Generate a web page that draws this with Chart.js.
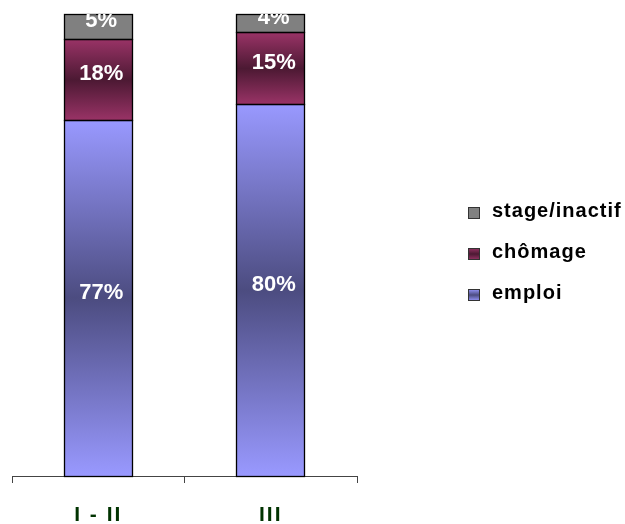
<!DOCTYPE html>
<html>
<head>
<meta charset="utf-8">
<script src="https://cdn.jsdelivr.net/npm/chart.js@4.4.1/dist/chart.umd.min.js"></script>
<style>
html,body{margin:0;padding:0;background:#fff;}
#wrap{width:625px;height:524px;position:relative;}
canvas{display:block;}
</style>
</head>
<body>
<div id="wrap"><canvas id="c" width="625" height="524"></canvas></div>
<script>
// ---- data ----
const categories = ['I - II', 'III'];
const seriesNames = ['emploi', 'chômage', 'stage/inactif'];
const emploi = [77.0, 80.5];
const chomage = [17.5, 15.4];
const stage = [5.5, 4.1];
const emploiLabels = ['77%', '80%'];
const chomageLabels = ['18%', '15%'];
const stageLabels = ['5%', '4%'];

// ---- styles ----
const palette = [
  {light: '#9999ff', dark: '#4c4c80'},
  {light: '#993366', dark: '#4c1933'},
  {light: '#808080', dark: '#808080'}
];
const valueLabels = [emploiLabels, chomageLabels, stageLabels];
const seriesValues = [emploi, chomage, stage];

function vGrad(ctx, top, bottom, light, dark) {
  const g = ctx.createLinearGradient(0, top, 0, bottom);
  g.addColorStop(0, light);
  g.addColorStop(0.5, dark);
  g.addColorStop(1, light);
  return g;
}

function segFill(idx) {
  const p = palette[idx];
  return (c) => {
    if (p.light === p.dark) return p.light;
    const chart = c.chart;
    const y = chart.scales && chart.scales.y;
    if (c.type !== 'data' || !y || !chart.chartArea) return p.light;
    let start = 0;
    for (let d = 0; d < c.datasetIndex; d++) start += chart.data.datasets[d].data[c.dataIndex];
    const end = start + c.raw;
    return vGrad(chart.ctx, y.getPixelForValue(end), y.getPixelForValue(start), p.light, p.dark);
  };
}

const datasets = seriesNames.map((name, i) => ({
  label: name,
  data: seriesValues[i],
  backgroundColor: segFill(i),
  borderWidth: 0,
  inflateAmount: 0,
  barPercentage: 0.7907,
  categoryPercentage: 0.5
}));

const spacingPlugin = {
  id: 'spacing',
  beforeDraw(chart) { chart.ctx.letterSpacing = '2px'; },
  beforeDatasetsDraw(chart) { chart.ctx.letterSpacing = '0px'; }
};

const snap = (v) => Math.floor(v) + 0.5;

const labelPlugin = {
  id: 'segLabels',
  afterDatasetsDraw(chart) {
    const ctx = chart.ctx;
    const a = chart.chartArea;
    // outlines
    ctx.save();
    ctx.strokeStyle = '#000000';
    ctx.lineWidth = 1.3;
    chart.data.datasets.forEach((ds, i) => {
      chart.getDatasetMeta(i).data.forEach((bar) => {
        const l = snap(bar.x - bar.width / 2), r = snap(bar.x + bar.width / 2);
        const t = snap(Math.min(bar.y, bar.base)), b = snap(Math.max(bar.y, bar.base));
        ctx.strokeRect(l, t, r - l, b - t);
      });
    });
    ctx.restore();
    // value labels
    ctx.save();
    ctx.beginPath();
    ctx.rect(a.left, a.top, a.right - a.left, a.bottom - a.top);
    ctx.clip();
    ctx.letterSpacing = '0px';
    ctx.font = 'bold 22px "Liberation Sans", Arial, sans-serif';
    ctx.fillStyle = '#ffffff';
    ctx.textAlign = 'center';
    ctx.textBaseline = 'middle';
    chart.data.datasets.forEach((ds, i) => {
      const meta = chart.getDatasetMeta(i);
      meta.data.forEach((bar, j) => {
        ctx.fillText(valueLabels[i][j], bar.x + 3, (bar.y + bar.base) / 2 - 5.5);
      });
    });
    ctx.restore();
  }
};

const legendPlugin = {
  id: 'sideLegend',
  afterDraw(chart) {
    const ctx = chart.ctx;
    ctx.save();
    ctx.letterSpacing = '1px';
    ctx.font = 'bold 20px "Liberation Sans", Arial, sans-serif';
    ctx.textAlign = 'left';
    ctx.textBaseline = 'alphabetic';
    const n = chart.data.datasets.length;
    for (let k = 0; k < n; k++) {
      const i = n - 1 - k;
      const ds = chart.data.datasets[i];
      const cy = 213 + k * 41;
      const x0 = 468, y0 = cy - 6, s = 12;
      const p = palette[i];
      ctx.fillStyle = p.light === p.dark ? p.light : vGrad(ctx, y0, y0 + s, p.light, p.dark);
      ctx.fillRect(x0, y0, s, s);
      ctx.strokeStyle = '#333333';
      ctx.lineWidth = 1;
      ctx.strokeRect(x0 + 0.5, y0 + 0.5, s - 1, s - 1);
      ctx.fillStyle = '#000000';
      ctx.fillText(ds.label, 492, cy + 3.5);
    }
    ctx.restore();
  }
};

new Chart(document.getElementById('c'), {
  type: 'bar',
  data: { labels: categories, datasets: datasets },
  options: {
    responsive: false,
    devicePixelRatio: 1,
    animation: false,
    layout: { padding: { top: 14, left: 12, right: 268, bottom: 0 } },
    plugins: { legend: { display: false }, tooltip: { enabled: false } },
    scales: {
      x: {
        stacked: true,
        offset: true,
        grid: { offset: true, drawOnChartArea: false, tickLength: 7, color: '#444444', lineWidth: 1 },
        border: { display: true, color: '#444444', width: 1 },
        ticks: {
          color: '#003300',
          font: { family: '"Liberation Sans", Arial, sans-serif', size: 21, weight: 'bold', lineHeight: 1 },
          padding: 22,
          maxRotation: 0
        },
        afterFit(s) { s.height = 48; }
      },
      y: {
        stacked: true,
        display: false,
        min: 0,
        max: 100
      }
    }
  },
  plugins: [spacingPlugin, labelPlugin, legendPlugin]
});
</script>
</body>
</html>
